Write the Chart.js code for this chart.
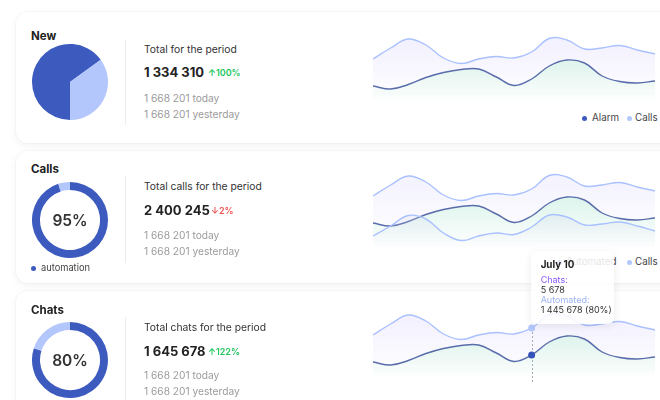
<!DOCTYPE html>
<html>
<head>
<meta charset="utf-8">
<script src="https://cdn.jsdelivr.net/npm/chart.js@4.4.1/dist/chart.umd.min.js"></script>
<style>
  html, body { margin: 0; padding: 0; }
  body { width: 660px; height: 400px; overflow: hidden; position: relative; background: #fff;
         font-family: Inter, 'Noto Sans', sans-serif; color: #222; }
  .card { position: absolute; left: 16px; width: 700px; background: #fff; border-radius: 12px;
          box-shadow: 0 0 0 1px rgba(0,0,0,0.025), 0 3px 10px rgba(0,0,0,0.05); }
  .abs { position: absolute; line-height: 1; white-space: nowrap; }
  .title { font-size: 11.5px; font-weight: 700; color: #222; }
  .label { font-size: 10.3px; color: #333; }
  .big { font-size: 13px; font-weight: 700; color: #222; }
  .up { font-size: 9px; font-weight: 600; color: #22c55e; }
  .down { font-size: 9px; font-weight: 600; color: #f05252; }
  .muted { font-size: 10.2px; color: #9b9b9b; }
  .divider { position: absolute; left: 125px; width: 1px; background: #ececec; }
  canvas { position: absolute; }
  .legend { font-size: 9.8px; color: #444; }
  .dot { position: absolute; width: 5px; height: 5px; border-radius: 50%; }
  .center { font-size: 15.5px; font-weight: 600; color: #333; text-align: center; width: 76px; }
  #tip { position: absolute; width: 83px; height: 73px; background: rgba(255,255,255,0.86); border-radius: 6px;
         box-shadow: 0 2px 9px rgba(0,0,0,0.08); z-index: 5; }
  #tip div { position: absolute; left: 10px; line-height: 1; white-space: nowrap; font-size: 9px; color: #333; }
</style>
</head>
<body>

<div class="card" style="top:12px; height:131px"></div>
<div class="card" style="top:151px; height:132px"></div>
<div class="card" style="top:291px; height:140px"></div>

<!-- card 1 -->
<div class="abs title" style="left:31px; top:31px">New</div>
<canvas id="pieNew" width="76" height="76" style="left:32px; top:44px"></canvas>
<div class="divider" style="top:40px; height:85px"></div>
<div class="abs label" style="left:144px; top:44px">Total for the period</div>
<div class="abs big" style="left:144px; top:65.5px">1 334 310</div>
<div class="abs up" style="left:208px; top:68px">↑100%</div>
<div class="abs muted" style="left:144px; top:93px">1 668 201 today</div>
<div class="abs muted" style="left:144px; top:109px">1 668 201 yesterday</div>
<canvas id="lineNew" width="292" height="90" style="left:368px; top:18px"></canvas>
<span class="dot" style="left:582px; top:116px; background:#3d5bbf"></span>
<div class="abs legend" style="left:592px; top:113px">Alarm</div>
<span class="dot" style="left:627px; top:116px; background:#b3c7fd"></span>
<div class="abs legend" style="left:635px; top:113px">Calls</div>

<!-- card 2 -->
<div class="abs title" style="left:31px; top:164px">Calls</div>
<canvas id="ringCalls" width="76" height="76" style="left:32px; top:182px"></canvas>
<div class="abs center" style="left:32px; top:212.5px">95%</div>
<span class="dot" style="left:31px; top:266px; background:#3d5bbf"></span>
<div class="abs legend" style="left:41px; top:263px; font-size:9.3px">automation</div>
<div class="divider" style="top:176px; height:87px"></div>
<div class="abs label" style="left:144px; top:181px">Total calls for the period</div>
<div class="abs big" style="left:144px; top:203.5px">2 400 245</div>
<div class="abs down" style="left:211px; top:206px">↓2%</div>
<div class="abs muted" style="left:144px; top:230px">1 668 201 today</div>
<div class="abs muted" style="left:144px; top:246px">1 668 201 yesterday</div>
<canvas id="lineCalls" width="292" height="90" style="left:368px; top:163px"></canvas>
<span class="dot" style="left:557px; top:260px; background:#3d5bbf"></span>
<div class="abs legend" style="left:566px; top:257px">Automated</div>
<span class="dot" style="left:627px; top:260px; background:#b3c7fd"></span>
<div class="abs legend" style="left:635px; top:257px">Calls</div>

<!-- card 3 -->
<div class="abs title" style="left:31px; top:305px">Chats</div>
<canvas id="ringChats" width="76" height="76" style="left:32px; top:322px"></canvas>
<div class="abs center" style="left:32px; top:352.5px">80%</div>
<div class="divider" style="top:317px; height:90px"></div>
<div class="abs label" style="left:144px; top:322px">Total chats for the period</div>
<div class="abs big" style="left:144px; top:344.5px">1 645 678</div>
<div class="abs up" style="left:208px; top:347px">↑122%</div>
<div class="abs muted" style="left:144px; top:370px">1 668 201 today</div>
<div class="abs muted" style="left:144px; top:386px">1 668 201 yesterday</div>
<canvas id="lineChats" width="292" height="92" style="left:368px; top:294px"></canvas>

<div id="tip">
  <div style="top:9px; font-size:9.8px; font-weight:700; color:#222" id="tipTitle"></div>
  <div style="top:24px; color:#8b5cf6">Chats:</div>
  <div style="top:34px" id="tipChats"></div>
  <div style="top:44px; color:#9db4f5">Automated:</div>
  <div style="top:54px" id="tipAuto"></div>
</div>

<script>
const days = ['July 1', 'July 2', 'July 3', 'July 4', 'July 5', 'July 6', 'July 7', 'July 8', 'July 9',
              'July 10', 'July 11', 'July 12', 'July 13', 'July 14', 'July 15', 'July 16', 'July 17'];
const callsSeries = [64, 75, 84, 78, 65, 59.5, 64, 66.5, 65, 71, 84.5, 83, 74, 75, 77.5, 73, 69];
const alarmSeries = [37, 34, 38.5, 45.5, 50.5, 53.5, 54, 46, 37.5, 44, 57, 63, 60, 47, 41.5, 40, 42];
const autoSeries = [24, 34, 44.5, 41, 27, 19.5, 24, 27, 25.5, 33, 45, 43, 35, 36, 38, 34, 29];

const newSplit = [65, 35];
const callsSplit = [95, 5];
const chatsSplit = [80, 20];

const focusDay = 'July 10';
const focusChats = '5 678';
const focusAuto = '1 445 678 (80%)';

const DARK = '#3d5bbf';
const LIGHT = '#b3c7fd';
const LINE_DARK = '#5a6dab';
const LINE_LIGHT = '#a9c1ff';

// vertical fade from a colour to nothing
function fade(rgb, a, from) {
  return (ctx) => {
    const area = ctx.chart.chartArea;
    if (!area) return 'transparent';
    const g = ctx.chart.ctx.createLinearGradient(0, area.top + from, 0, area.bottom);
    g.addColorStop(0, 'rgba(' + rgb + ',' + a + ')');
    g.addColorStop(1, 'rgba(' + rgb + ',0)');
    return g;
  };
}

function lineSet(label, data, color, rgb, a, from) {
  return {
    label, data,
    borderColor: color, borderWidth: 1.4, tension: 0.4,
    pointRadius: 0, fill: 'start',
    backgroundColor: fade(rgb, a, from)
  };
}

function lineOptions(min, max) {
  return {
    responsive: false, animation: false, events: [],
    layout: { padding: 5 },
    scales: { x: { display: false }, y: { display: false, min, max } },
    plugins: { legend: { display: false }, tooltip: { enabled: false } }
  };
}

function ring(id, values, cutout, rotation) {
  new Chart(document.getElementById(id), {
    type: 'doughnut',
    data: { labels: ['main', 'rest'], datasets: [{ data: values, backgroundColor: [DARK, LIGHT], borderWidth: 0 }] },
    options: {
      responsive: false, animation: false, events: [], cutout, rotation,
      plugins: { legend: { display: false }, tooltip: { enabled: false } }
    }
  });
}

ring('pieNew', newSplit, 0, 180);
ring('ringCalls', callsSplit, '79%', 0);
ring('ringChats', chatsSplit, '79%', 0);

new Chart(document.getElementById('lineNew'), {
  type: 'line',
  data: {
    labels: days,
    datasets: [
      lineSet('Alarm', alarmSeries, LINE_DARK, '134,239,172', 0.25, 30),
      lineSet('Calls', callsSeries, LINE_LIGHT, '200,190,250', 0.25, 10)
    ]
  },
  options: lineOptions(20, 100)
});

new Chart(document.getElementById('lineCalls'), {
  type: 'line',
  data: {
    labels: days,
    datasets: [
      lineSet('Automated', autoSeries, LINE_LIGHT, '205,208,232', 0.3, 40),
      lineSet('Alarm', alarmSeries, LINE_DARK, '134,239,172', 0.25, 25),
      lineSet('Calls', callsSeries, LINE_LIGHT, '200,196,250', 0.22, 5)
    ]
  },
  options: lineOptions(12, 92)
});

const focusIndex = days.indexOf(focusDay);
const focusLine = {
  id: 'focusLine',
  beforeDatasetsDraw(chart) {
    const top = chart.getDatasetMeta(1).data[focusIndex];
    const c = chart.ctx;
    const x = Math.round(top.x) + 0.5;
    c.save();
    c.setLineDash([2, 2]);
    c.strokeStyle = '#a3a8b3';
    c.lineWidth = 1;
    c.beginPath();
    c.moveTo(x, top.y);
    c.lineTo(x, chart.chartArea.bottom + 3);
    c.stroke();
    c.restore();
  },
  afterDraw(chart) {
    const top = chart.getDatasetMeta(1).data[focusIndex];
    const tip = document.getElementById('tip');
    tip.style.left = (chart.canvas.offsetLeft + top.x - 1) + 'px';
    tip.style.top = (chart.canvas.offsetTop + top.y - 77) + 'px';
  }
};

document.getElementById('tipTitle').textContent = focusDay;
document.getElementById('tipChats').textContent = focusChats;
document.getElementById('tipAuto').textContent = focusAuto;

const chatsAlarm = lineSet('Automated', alarmSeries, LINE_DARK, '134,239,172', 0.25, 30);
chatsAlarm.pointRadius = (ctx) => ctx.dataIndex === focusIndex ? 3.5 : 0;
chatsAlarm.pointBackgroundColor = '#3552b8';
chatsAlarm.pointBorderWidth = 0;
const chatsCalls = lineSet('Chats', callsSeries, LINE_LIGHT, '200,190,250', 0.25, 10);
chatsCalls.pointRadius = (ctx) => ctx.dataIndex === focusIndex ? 3.5 : 0;
chatsCalls.pointBackgroundColor = LIGHT;
chatsCalls.pointBorderWidth = 0;

const chatsOpts = lineOptions(20, 100);
chatsOpts.layout = { padding: { left: 5, right: 5, top: 5, bottom: 7 } };
new Chart(document.getElementById('lineChats'), {
  type: 'line',
  data: { labels: days, datasets: [chatsAlarm, chatsCalls] },
  options: chatsOpts,
  plugins: [focusLine]
});
</script>
</body>
</html>
